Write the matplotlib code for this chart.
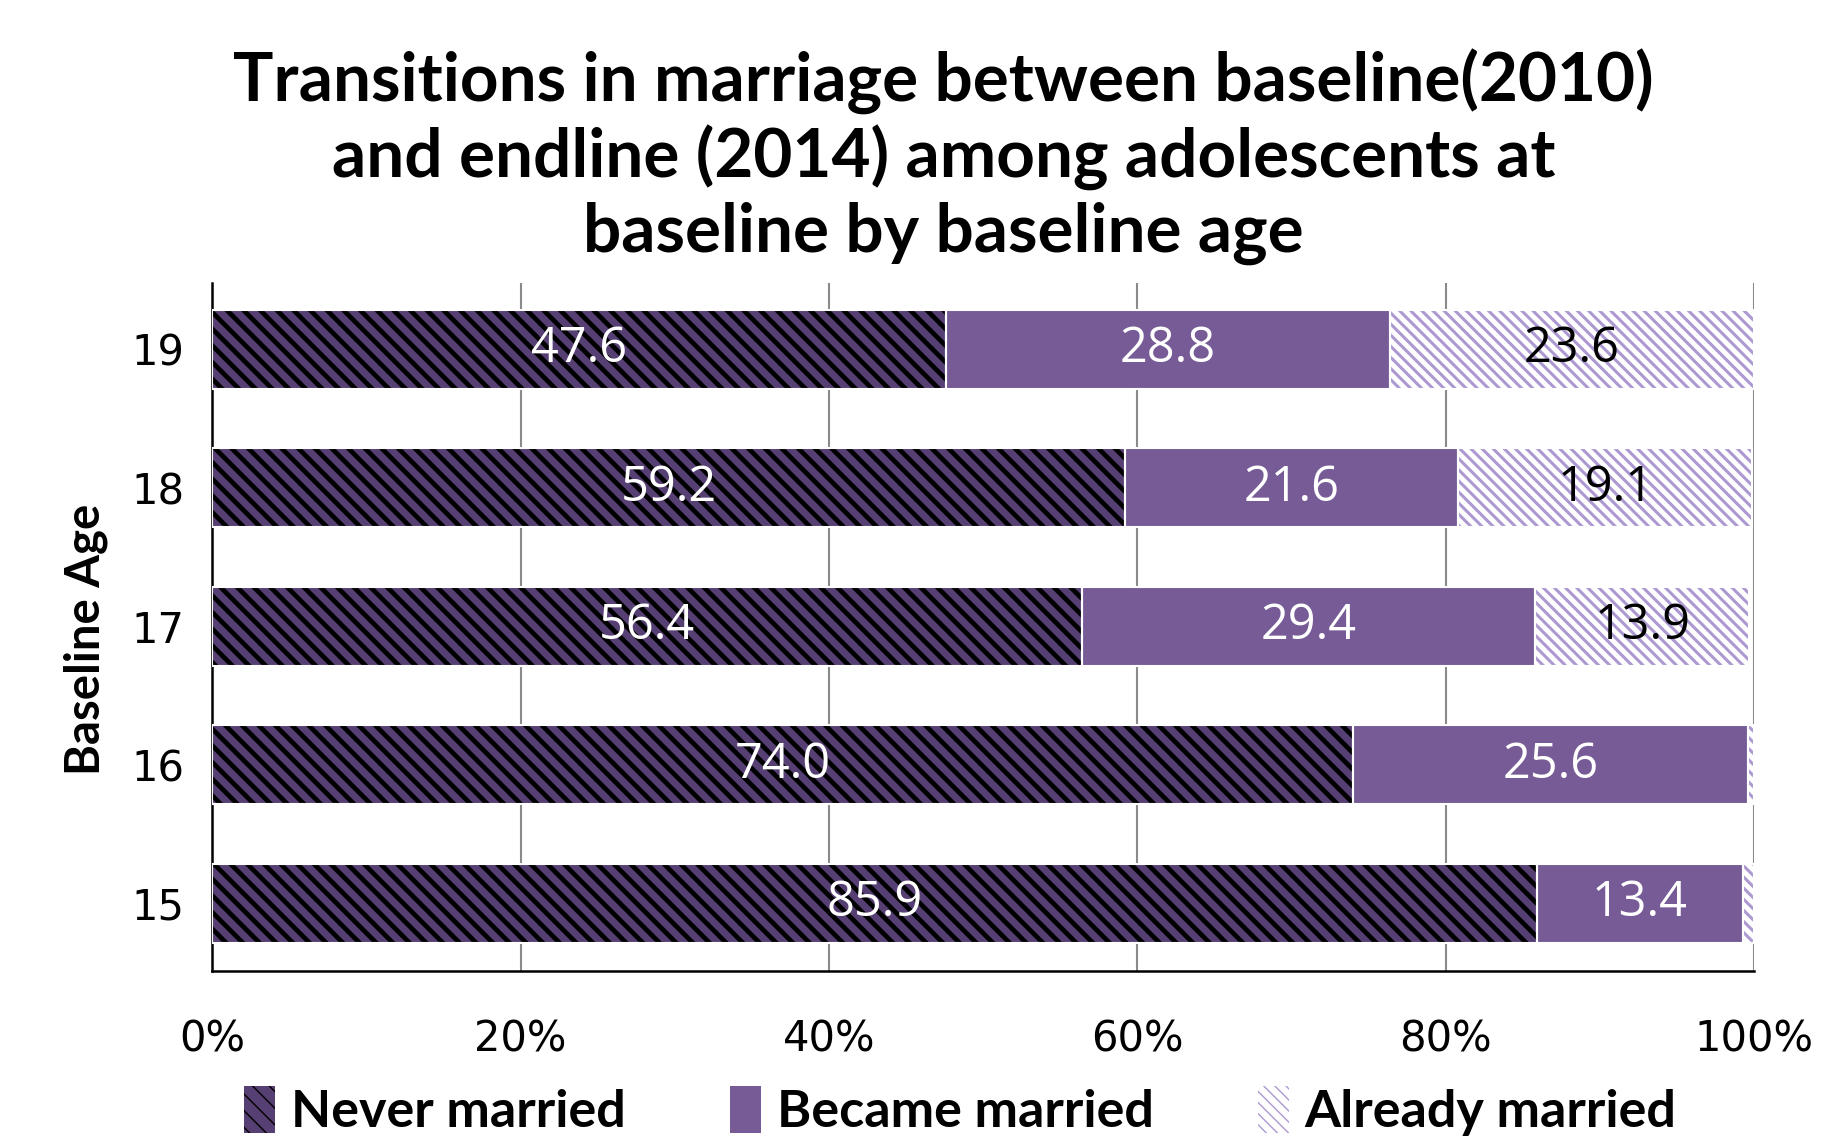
import matplotlib.pyplot as plt
import matplotlib as mpl

ages = ['15', '16', '17', '18', '19']
never_married = [85.9, 74.0, 56.4, 59.2, 47.6]
became_married = [13.4, 25.6, 29.4, 21.6, 28.8]
already_married = [0.7, 0.4, 13.9, 19.1, 23.6]
# labels shown on the bars (tiny slices have none)
already_labels = ['', '', '13.9', '19.1', '23.6']
xticks = [0, 20, 40, 60, 80, 100]
xticklabels = ['0%', '20%', '40%', '60%', '80%', '100%']

c_never = '#563f72'
c_became = '#765b96'
c_already = '#ad99d2'

fig = plt.figure(figsize=(18.29, 11.36), dpi=100)
ax = fig.add_axes([0.116, 0.145, 0.843, 0.606])

y = range(len(ages))
h = 0.57

with mpl.rc_context({'hatch.linewidth': 3.4}):
    b1 = ax.barh(y, never_married, height=h, color=c_never, edgecolor='black',
                 hatch='\\\\', linewidth=0, zorder=3, label='Never married')
left2 = never_married
b2 = ax.barh(y, became_married, left=left2, height=h, color=c_became,
             linewidth=0, zorder=3, label='Became married')
left3 = [a + b for a, b in zip(never_married, became_married)]
with mpl.rc_context({'hatch.linewidth': 2.2}):
    b3 = ax.barh(y, already_married, left=left3, height=h, color='white',
                 edgecolor=c_already, hatch='\\\\\\', linewidth=0, zorder=3,
                 label='Already married')

# thin white borders between segments
for vals, lefts in [(never_married, [0] * 5), (became_married, left2), (already_married, left3)]:
    ax.barh(y, vals, left=lefts, height=h, facecolor='none', edgecolor='white',
            linewidth=1.5, zorder=4)

lab_font = {'family': 'Open Sans', 'size': 35}
for i in y:
    ax.text(never_married[i] / 2, i, f'{never_married[i]:.1f}', ha='center', va='center',
            color='white', zorder=5, **lab_font)
    ax.text(left2[i] + became_married[i] / 2, i, f'{became_married[i]:.1f}', ha='center',
            va='center', color='white', zorder=5, **lab_font)
    if already_labels[i]:
        ax.text(left3[i] + already_married[i] / 2, i, already_labels[i], ha='center',
                va='center', color='black', zorder=5, **lab_font)

ax.set_xlim(0, 100)
ax.set_ylim(-0.49, 4.48)
ax.set_xticks(xticks)
ax.set_xticklabels(xticklabels, fontfamily='DejaVu Sans', fontsize=30)
ax.set_yticks(list(y))
ax.set_yticklabels(ages, fontfamily='DejaVu Sans', fontsize=30)
ax.tick_params(axis='x', length=0, pad=34)
ax.tick_params(axis='y', length=0, pad=20)
ax.grid(axis='x', color='#8a8a8a', linewidth=1.5, zorder=0)
ax.spines['top'].set_visible(False)
ax.spines['right'].set_visible(False)
ax.spines['left'].set_linewidth(1.8)
ax.spines['bottom'].set_linewidth(1.8)

fig.text(0.047, 0.437, 'Baseline Age', rotation=90, ha='center', va='center',
         fontfamily='Lato', fontweight='bold', fontsize=34)

fig.text(0.516, 0.862, 'Transitions in marriage between baseline(2010)\n'
         'and endline (2014) among adolescents at\nbaseline by baseline age',
         ha='center', va='center', fontfamily='Lato', fontweight='bold',
         fontsize=48.5, linespacing=1.2)

fig.legend(handles=[b1, b2, b3], loc='center', bbox_to_anchor=(0.525, 0.022),
           ncol=3, frameon=False, handlelength=0.6, handleheight=1.0,
           handletextpad=0.3, columnspacing=2.0,
           prop={'family': 'Lato', 'weight': 'bold', 'size': 37.5})

fig.savefig('out.png', dpi=100)
